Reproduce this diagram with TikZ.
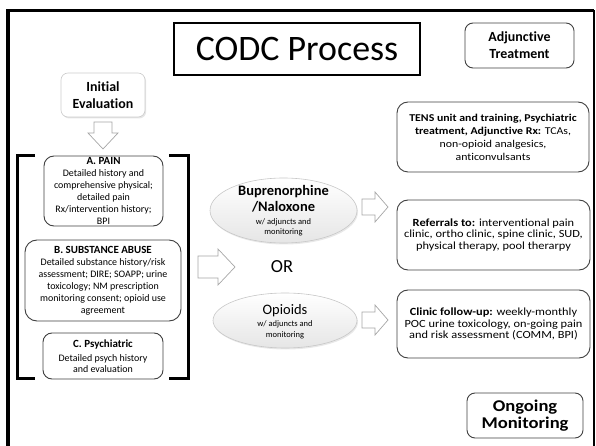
\documentclass[tikz,border=0pt]{standalone}
\usepackage{fontspec}
\setmainfont{Carlito}[Ligatures={NoCommon,TeX}]
\newfontfamily\widefont[FakeStretch=1.13,Ligatures={NoCommon,TeX}]{Carlito}
\usetikzlibrary{shapes.geometric,shadows}
\begin{document}
\begin{tikzpicture}[x=1bp,y=-1bp,
  box/.style={draw=black!75, line width=0.9bp, rounded corners=9bp, fill=white, align=center, inner sep=0pt},
  barrow/.style={draw=black!35, line width=0.7bp, fill=white, line join=miter},
  oval/.style={ellipse, draw=black!22, line width=0.6bp, top color=white, bottom color=black!10, inner sep=0pt,
    drop shadow={opacity=0.18, shadow xshift=1bp, shadow yshift=-1.5bp}},
  bracket/.style={line width=3bp},
  lbl/.style={align=center, inner sep=0pt}
]
\useasboundingbox (0,0) rectangle (596,446);

% outer frame
\draw[line width=3.2bp] (8,447) -- (8,10.5) -- (594,10.5);
\draw[line width=1.3bp] (594,10.5) -- (594,447);

% title
\node[draw, line width=1.1bp, minimum width=246bp, minimum height=52bp, inner sep=0pt,
  font=\fontsize{36}{40}\selectfont] (title) at (297,49) {CODC Process};

% adjunctive treatment
\node[box, minimum width=109bp, minimum height=45bp, rounded corners=8bp,
  font=\fontsize{14}{17}\selectfont\bfseries] (adj) at (519.5,45.5) {Adjunctive\\Treatment};

% initial evaluation
\node[box, draw=black!20, line width=0.6bp, rounded corners=7bp, minimum width=84bp, minimum height=44bp,
  drop shadow={opacity=0.2, shadow xshift=1.2bp, shadow yshift=-1.5bp},
  font=\fontsize{14}{17}\selectfont\bfseries] (init) at (103,95) {Initial\\Evaluation};

% down block arrow
\draw[barrow] (94,122) -- (112,122) -- (112,133) -- (118,133) -- (103,149) -- (88,133) -- (94,133) -- cycle;

% bracket
\draw[bracket] (35,155.5) -- (17.5,155.5) -- (17.5,378) -- (35,378);
\draw[bracket] (169,155.5) -- (188.5,155.5) -- (188.5,378) -- (169,378);

% A. PAIN
\node[box, minimum width=119bp, minimum height=70bp, rounded corners=10bp,
  font=\fontsize{10}{12}\selectfont] (pain) at (103.5,191)
  {\textbf{\fontsize{11}{12}\selectfont A. PAIN}\\Detailed history and\\comprehensive physical;\\detailed pain\\Rx/intervention history;\\BPI};

% B. SUBSTANCE ABUSE
\node[box, minimum width=156bp, minimum height=81bp, rounded corners=12bp,
  font=\fontsize{10}{12}\selectfont] (sub) at (103,280.5)
  {\textbf{\fontsize{11}{12}\selectfont B. SUBSTANCE ABUSE}\\Detailed substance history/risk\\assessment; DIRE; SOAPP; urine\\toxicology; NM prescription\\monitoring consent; opioid use\\agreement};

% C. Psychiatric
\node[box, minimum width=120bp, minimum height=46bp, rounded corners=9bp,
  font=\fontsize{10}{11}\selectfont] (psy) at (103,356)
  {\textbf{\fontsize{11}{12}\selectfont C. Psychiatric}\\[2.5bp]Detailed psych history\\and evaluation};

% big right block arrow
\draw[barrow] (198,256) -- (218,256) -- (218,249) -- (235,267) -- (218,285) -- (218,278) -- (198,278) -- cycle;

% ellipses
\node[oval, minimum width=147bp, minimum height=65bp] (bup) at (283.5,210.5) {};
\node[lbl, font=\fontsize{8.5}{10.5}\selectfont] (buptext) at (bup.center)
  {\textbf{\fontsize{14.5}{16}\selectfont Buprenorphine}\\[2.9bp]\textbf{\fontsize{14.5}{16}\selectfont /Naloxone}\\[2.4bp]w/ adjuncts and\\monitoring};

\node[font=\fontsize{18.5}{20}\selectfont, inner sep=0pt] (or) at (282,267) {OR};

\node[oval, minimum width=144bp, minimum height=55bp] (opi) at (285,320.5) {};
\node[lbl, font=\fontsize{8.5}{10.5}\selectfont] (opitext) at ([yshift=-1bp]opi.center)
  {{\fontsize{14.5}{16}\selectfont Opioids}\\[2bp]w/ adjuncts and\\monitoring};

% small block arrows
\draw[barrow] (362,199) -- (375,199) -- (375,192) -- (388,207) -- (375,222) -- (375,215) -- (362,215) -- cycle;
\draw[barrow] (362,312) -- (375,312) -- (375,305) -- (388,320) -- (375,335) -- (375,328) -- (362,328) -- cycle;

% right column boxes
\node[box, minimum width=192bp, minimum height=70bp, rounded corners=11bp,
  font=\widefont\fontsize{10.5}{13}\selectfont] (tens) at (493,137)
  {\textbf{TENS unit and training, Psychiatric}\\\textbf{treatment, Adjunctive Rx:} TCAs,\\non-opioid analgesics,\\anticonvulsants};

\node[box, minimum width=193bp, minimum height=70bp, rounded corners=11bp,
  font=\widefont\fontsize{11}{11.5}\selectfont] (ref) at (493.5,235)
  {\textbf{Referrals to:} interventional pain\\clinic, ortho clinic, spine clinic, SUD,\\physical therapy, pool therarpy};

\node[box, minimum width=193bp, minimum height=68bp, rounded corners=11bp,
  font=\widefont\fontsize{11}{11.5}\selectfont] (clin) at (493.5,324)
  {\textbf{Clinic follow-up:} weekly-monthly\\POC urine toxicology, on-going pain\\and risk assessment (COMM, BPI)};

\node[box, minimum width=116bp, minimum height=45bp, rounded corners=8bp,
  font=\widefont\fontsize{16.5}{16.5}\selectfont\bfseries] (ongo) at (525,415.5) {Ongoing\\Monitoring};
\end{tikzpicture}
\end{document}
